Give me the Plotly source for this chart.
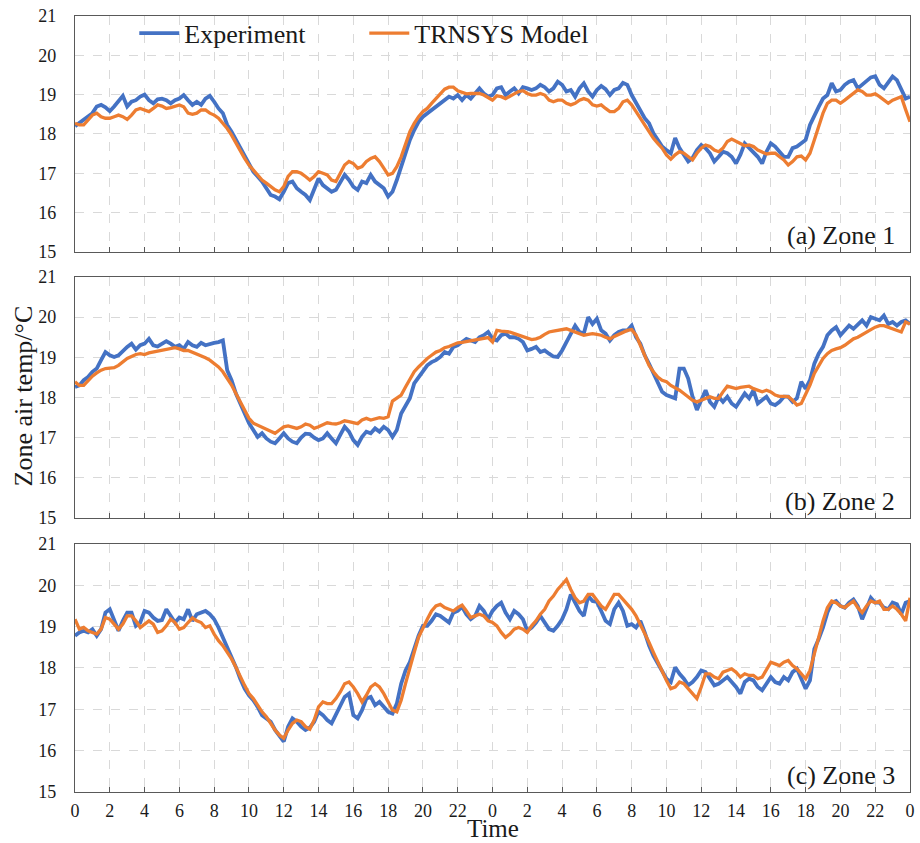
import plotly.graph_objects as go

# Sampling: every 15 minutes over two days (hours since start)
hours = [i * 0.25 for i in range(193)]

# Zone 1 air temperature (°C)
exp_zone1 = [
    18.20, 18.28, 18.36, 18.45, 18.53, 18.70, 18.74, 18.68,
    18.58, 18.70, 18.82, 18.97, 18.70, 18.82, 18.86, 18.95,
    19.00, 18.86, 18.78, 18.88, 18.90, 18.86, 18.78, 18.86,
    18.90, 18.99, 18.86, 18.74, 18.82, 18.74, 18.90, 18.97,
    18.82, 18.65, 18.53, 18.23, 18.06, 17.85, 17.64, 17.42,
    17.21, 17.04, 16.92, 16.79, 16.62, 16.45, 16.41, 16.34,
    16.53, 16.75, 16.79, 16.62, 16.53, 16.45, 16.32, 16.62,
    16.87, 16.70, 16.62, 16.53, 16.58, 16.79, 16.96, 16.83,
    16.66, 16.58, 16.79, 16.75, 16.96, 16.79, 16.70, 16.62,
    16.41, 16.53, 16.83, 17.17, 17.51, 17.85, 18.10, 18.31,
    18.44, 18.53, 18.61, 18.69, 18.78, 18.86, 18.95, 18.90,
    18.99, 18.86, 18.99, 18.90, 19.03, 19.16, 19.03, 18.95,
    18.99, 19.16, 19.19, 18.99, 19.08, 19.16, 19.03, 19.19,
    19.16, 19.12, 19.16, 19.25, 19.19, 19.08, 19.16, 19.33,
    19.25, 19.08, 19.12, 18.95, 19.16, 19.29, 19.08, 18.95,
    19.12, 19.22, 19.14, 18.99, 19.12, 19.16, 19.30, 19.25,
    18.99, 18.78, 18.61, 18.40, 18.27, 18.02, 17.85, 17.68,
    17.59, 17.51, 17.90, 17.64, 17.47, 17.30, 17.39, 17.59,
    17.72, 17.64, 17.51, 17.30, 17.42, 17.55, 17.51, 17.42,
    17.25, 17.47, 17.76, 17.64, 17.55, 17.42, 17.25, 17.55,
    17.76, 17.68, 17.55, 17.42, 17.42, 17.64, 17.68, 17.76,
    17.85, 18.23, 18.48, 18.69, 18.90, 18.99, 19.29, 19.08,
    19.12, 19.25, 19.33, 19.37, 19.16, 19.25, 19.37, 19.44,
    19.47, 19.25, 19.16, 19.33, 19.46, 19.37, 19.12, 18.90,
    18.95,
]
mod_zone1 = [
    18.27, 18.23, 18.23, 18.36, 18.48, 18.53, 18.44, 18.40,
    18.40, 18.44, 18.48, 18.44, 18.37, 18.48, 18.61, 18.65,
    18.61, 18.57, 18.65, 18.74, 18.71, 18.65, 18.67, 18.71,
    18.74, 18.69, 18.53, 18.50, 18.53, 18.61, 18.61, 18.53,
    18.48, 18.40, 18.27, 18.14, 17.97, 17.76, 17.55, 17.38,
    17.21, 17.08, 16.96, 16.83, 16.75, 16.66, 16.58, 16.53,
    16.66, 16.92, 17.04, 17.04, 17.00, 16.92, 16.83, 16.92,
    17.04, 17.00, 16.96, 16.83, 16.79, 17.00, 17.21, 17.30,
    17.25, 17.13, 17.17, 17.30, 17.38, 17.42, 17.30, 17.13,
    16.96, 17.00, 17.17, 17.42, 17.76, 18.06, 18.27, 18.44,
    18.57, 18.65, 18.78, 18.90, 19.03, 19.14, 19.19, 19.19,
    19.10, 19.05, 19.02, 19.03, 19.03, 19.03, 18.99, 18.93,
    18.86, 18.97, 18.95, 18.90, 18.95, 19.02, 19.08, 19.10,
    19.03, 18.99, 18.99, 19.03, 18.99, 18.86, 18.82, 18.86,
    18.86, 18.78, 18.74, 18.78, 18.86, 18.90, 18.86, 18.74,
    18.71, 18.74, 18.65, 18.57, 18.57, 18.65, 18.82, 18.86,
    18.74, 18.57, 18.40, 18.23, 18.06, 17.89, 17.76, 17.64,
    17.47, 17.36, 17.47, 17.55, 17.51, 17.42, 17.34, 17.51,
    17.64, 17.72, 17.68, 17.59, 17.55, 17.64, 17.81, 17.87,
    17.81, 17.75, 17.70, 17.72, 17.68, 17.59, 17.55, 17.49,
    17.51, 17.51, 17.42, 17.34, 17.21, 17.30, 17.42, 17.44,
    17.34, 17.51, 17.85, 18.19, 18.53, 18.78, 18.86, 18.86,
    18.78, 18.86, 18.95, 19.02, 19.12, 19.08, 18.99, 18.99,
    19.02, 18.95, 18.86, 18.78, 18.86, 18.90, 18.95, 18.62,
    18.31,
]

# Zone 2 air temperature (°C)
exp_zone2 = [
    18.26, 18.30, 18.43, 18.51, 18.64, 18.72, 18.93, 19.13,
    19.05, 19.01, 19.05, 19.17, 19.26, 19.34, 19.19, 19.30,
    19.34, 19.46, 19.30, 19.27, 19.34, 19.40, 19.34, 19.26,
    19.30, 19.21, 19.38, 19.30, 19.26, 19.36, 19.30, 19.34,
    19.36, 19.38, 19.42, 18.68, 18.43, 18.10, 17.85, 17.60,
    17.36, 17.19, 17.02, 17.11, 16.98, 16.90, 16.86, 16.98,
    17.11, 16.98, 16.90, 16.86, 17.00, 17.10, 17.09, 17.00,
    16.94, 16.98, 17.11, 16.98, 16.86, 17.07, 17.27, 17.15,
    16.94, 16.82, 17.02, 17.15, 17.11, 17.23, 17.15, 17.27,
    17.19, 17.02, 17.19, 17.60, 17.77, 17.98, 18.35, 18.51,
    18.68, 18.80, 18.88, 18.93, 19.01, 19.13, 19.09, 19.26,
    19.30, 19.38, 19.46, 19.42, 19.38, 19.50, 19.55, 19.63,
    19.46, 19.42, 19.55, 19.59, 19.50, 19.50, 19.46, 19.38,
    19.17, 19.21, 19.26, 19.13, 19.17, 19.09, 19.02, 19.01,
    19.17, 19.38, 19.59, 19.79, 19.63, 19.59, 20.00, 19.83,
    19.96, 19.67, 19.59, 19.42, 19.55, 19.63, 19.67, 19.67,
    19.79, 19.50, 19.34, 19.05, 18.84, 18.60, 18.35, 18.14,
    18.06, 18.02, 17.98, 18.72, 18.72, 18.47, 18.02, 17.69,
    17.93, 18.18, 17.89, 17.77, 18.02, 17.89, 18.02, 17.85,
    17.77, 17.93, 18.10, 17.98, 18.18, 17.85, 17.93, 18.02,
    17.85, 17.81, 17.89, 18.02, 18.02, 17.89, 17.98, 18.39,
    18.22, 18.43, 18.84, 19.09, 19.26, 19.55, 19.67, 19.75,
    19.55, 19.67, 19.79, 19.71, 19.83, 19.92, 19.79, 20.00,
    19.96, 19.92, 20.04, 19.83, 19.88, 19.79, 19.88, 19.92,
    19.83,
]
mod_zone2 = [
    18.39, 18.30, 18.30, 18.43, 18.53, 18.61, 18.68, 18.72,
    18.72, 18.74, 18.80, 18.88, 18.97, 19.02, 19.07, 19.09,
    19.07, 19.11, 19.13, 19.16, 19.19, 19.19, 19.21, 19.24,
    19.21, 19.17, 19.17, 19.13, 19.09, 19.05, 18.99, 18.93,
    18.84, 18.76, 18.64, 18.47, 18.31, 18.10, 17.89, 17.69,
    17.48, 17.36, 17.31, 17.27, 17.21, 17.15, 17.11, 17.19,
    17.27, 17.29, 17.27, 17.23, 17.27, 17.34, 17.31, 17.23,
    17.27, 17.31, 17.37, 17.35, 17.34, 17.37, 17.42, 17.40,
    17.37, 17.35, 17.44, 17.48, 17.44, 17.48, 17.50, 17.48,
    17.52, 17.91, 17.98, 18.06, 18.26, 18.47, 18.64, 18.76,
    18.88, 18.97, 19.05, 19.13, 19.17, 19.24, 19.27, 19.32,
    19.36, 19.37, 19.39, 19.40, 19.42, 19.44, 19.46, 19.49,
    19.38, 19.67, 19.65, 19.65, 19.63, 19.59, 19.55, 19.50,
    19.46, 19.44, 19.46, 19.50, 19.57, 19.63, 19.65, 19.67,
    19.69, 19.71, 19.67, 19.63, 19.59, 19.55, 19.57, 19.59,
    19.57, 19.55, 19.50, 19.46, 19.52, 19.57, 19.63, 19.67,
    19.69, 19.55, 19.30, 19.05, 18.80, 18.64, 18.51, 18.43,
    18.39, 18.30, 18.25, 18.18, 18.10, 18.02, 17.93, 17.89,
    17.93, 17.98, 18.02, 17.98, 17.98, 18.14, 18.28, 18.25,
    18.22, 18.25, 18.26, 18.28, 18.22, 18.18, 18.14, 18.18,
    18.14, 18.06, 18.03, 18.03, 18.02, 17.93, 17.81, 17.85,
    18.06, 18.31, 18.60, 18.80, 18.97, 19.09, 19.17, 19.21,
    19.24, 19.30, 19.38, 19.46, 19.50, 19.57, 19.63, 19.69,
    19.75, 19.79, 19.79, 19.75, 19.71, 19.67, 19.63, 19.88,
    19.83,
]

# Zone 3 air temperature (°C)
exp_zone3 = [
    18.78, 18.86, 18.90, 18.86, 18.94, 18.78, 18.94, 19.34,
    19.42, 19.14, 18.90, 19.14, 19.34, 19.34, 19.02, 19.10,
    19.38, 19.34, 19.22, 19.14, 19.16, 19.42, 19.26, 19.10,
    19.22, 19.18, 19.42, 19.14, 19.30, 19.34, 19.38, 19.30,
    19.18, 18.98, 18.74, 18.54, 18.30, 18.02, 17.74, 17.50,
    17.34, 17.22, 17.06, 16.86, 16.78, 16.70, 16.50, 16.34,
    16.22, 16.58, 16.78, 16.70, 16.58, 16.50, 16.56, 16.70,
    16.94, 16.86, 16.74, 16.66, 16.86, 17.10, 17.30, 17.38,
    16.86, 16.78, 16.98, 17.26, 17.30, 17.10, 17.18, 17.06,
    16.94, 16.90, 17.14, 17.62, 17.94, 18.14, 18.46, 18.78,
    19.02, 19.02, 19.14, 19.30, 19.26, 19.18, 19.10, 19.34,
    19.38, 19.48, 19.30, 19.18, 19.26, 19.50, 19.38, 19.18,
    19.38, 19.50, 19.58, 19.34, 19.18, 19.38, 19.30, 19.18,
    18.90, 18.98, 19.10, 19.26, 19.10, 18.94, 18.90, 19.02,
    19.18, 19.42, 19.78, 19.58, 19.38, 19.26, 19.74, 19.62,
    19.60, 19.38, 19.14, 19.06, 19.42, 19.58, 19.38, 19.02,
    19.06, 18.98, 19.14, 18.86, 18.54, 18.30, 18.10, 17.94,
    17.74, 17.66, 18.02, 17.86, 17.74, 17.58, 17.66, 17.78,
    17.94, 17.90, 17.74, 17.58, 17.62, 17.70, 17.78, 17.66,
    17.54, 17.38, 17.66, 17.74, 17.70, 17.54, 17.46, 17.62,
    17.78, 17.66, 17.62, 17.78, 17.70, 17.90, 17.98, 17.74,
    17.50, 17.70, 18.46, 18.70, 18.98, 19.34, 19.58, 19.62,
    19.50, 19.46, 19.58, 19.66, 19.50, 19.18, 19.42, 19.70,
    19.58, 19.58, 19.46, 19.42, 19.58, 19.54, 19.30, 19.58,
    19.62,
]
mod_zone3 = [
    19.18, 18.94, 18.98, 18.90, 18.86, 18.82, 18.94, 19.22,
    19.18, 19.06, 18.94, 19.06, 19.26, 19.26, 19.14, 18.98,
    19.06, 19.14, 19.06, 18.86, 18.90, 19.02, 19.18, 19.10,
    18.94, 18.98, 19.10, 19.21, 19.14, 19.10, 18.98, 19.02,
    18.82, 18.66, 18.54, 18.38, 18.22, 18.02, 17.78, 17.58,
    17.38, 17.26, 17.10, 16.94, 16.82, 16.66, 16.50, 16.38,
    16.30, 16.50, 16.66, 16.74, 16.70, 16.58, 16.52, 16.74,
    17.06, 17.18, 17.14, 17.14, 17.26, 17.42, 17.62, 17.66,
    17.54, 17.38, 17.18, 17.34, 17.54, 17.62, 17.54, 17.38,
    17.18, 16.98, 16.94, 17.22, 17.62, 18.02, 18.38, 18.74,
    18.98, 19.18, 19.38, 19.50, 19.54, 19.46, 19.42, 19.38,
    19.46, 19.52, 19.38, 19.22, 19.26, 19.30, 19.26, 19.14,
    19.10, 19.02, 18.86, 18.74, 18.82, 18.94, 18.98, 18.94,
    18.86, 19.02, 19.14, 19.30, 19.42, 19.62, 19.74, 19.90,
    20.02, 20.14, 19.90, 19.70, 19.58, 19.62, 19.78, 19.78,
    19.64, 19.50, 19.42, 19.62, 19.78, 19.78, 19.66, 19.54,
    19.42, 19.26, 19.06, 18.86, 18.62, 18.38, 18.14, 17.90,
    17.70, 17.50, 17.54, 17.66, 17.62, 17.50, 17.38, 17.26,
    17.54, 17.86, 17.86, 17.78, 17.74, 17.90, 17.94, 17.98,
    17.90, 17.78, 17.86, 17.82, 17.82, 17.74, 17.78, 17.98,
    18.14, 18.10, 18.06, 18.14, 18.18, 18.06, 17.98, 17.86,
    17.74, 17.94, 18.34, 18.74, 19.14, 19.46, 19.62, 19.58,
    19.50, 19.46, 19.54, 19.62, 19.46, 19.34, 19.50, 19.62,
    19.58, 19.62, 19.42, 19.42, 19.50, 19.42, 19.30, 19.14,
    19.70,
]

zone_labels = ["(a) Zone 1", "(b) Zone 2", "(c) Zone 3"]
series_names = ["Experiment", "TRNSYS Model"]
tick_hours = list(range(0, 49, 2))
tick_text = [str(h % 24) for h in tick_hours]
y_ticks = [15, 16, 17, 18, 19, 20, 21]

BLUE = "#4472C4"
ORANGE = "#ED7D31"
FONT = "'Liberation Serif', 'DejaVu Serif', serif"
INK = "#1a1a1a"
FRAME = "#595959"
GRID = "#d9d9d9"
BIG = 26

domains = [[0.6959, 1.0], [0.3531, 0.6637], [0.0, 0.3196]]
zones = [(exp_zone1, mod_zone1), (exp_zone2, mod_zone2), (exp_zone3, mod_zone3)]

fig = go.Figure()
layout = dict(
    width=920, height=843,
    margin=dict(l=75, r=5, t=16, b=51),
    paper_bgcolor="white", plot_bgcolor="white",
    font=dict(family=FONT, color=INK, size=17),
    showlegend=True,
    legend=dict(
        orientation="h", x=0.071, y=1.008, xanchor="left", yanchor="top",
        font=dict(family=FONT, size=BIG, color=INK),
        bgcolor="rgba(0,0,0,0)", itemwidth=40, entrywidth=175,
    ),
)

annotations = []
for i, (exp, mod) in enumerate(zones):
    n = i + 1
    xa = "x" if n == 1 else f"x{n}"
    ya = "y" if n == 1 else f"y{n}"
    fig.add_trace(go.Scatter(
        x=hours, y=exp, mode="lines", name=series_names[0],
        line=dict(color=BLUE, width=3.8), xaxis=xa, yaxis=ya,
        showlegend=(n == 1),
    ))
    fig.add_trace(go.Scatter(
        x=hours, y=mod, mode="lines", name=series_names[1],
        line=dict(color=ORANGE, width=3.3), xaxis=xa, yaxis=ya,
        showlegend=(n == 1),
    ))
    xkey = "xaxis" if n == 1 else f"xaxis{n}"
    ykey = "yaxis" if n == 1 else f"yaxis{n}"
    layout[xkey] = dict(
        domain=[0, 1], anchor=ya, range=[0, 48],
        tickvals=tick_hours, ticktext=tick_text,
        showticklabels=(n == 3),
        ticks="inside", ticklen=5, tickcolor=FRAME, tickwidth=1,
        showgrid=True, gridcolor=GRID, griddash="dash", gridwidth=1,
        showline=True, linecolor=FRAME, linewidth=1.2, mirror=True,
        zeroline=False, ticklabelstandoff=2,
        tickfont=dict(family=FONT, size=18, color=INK),
        matches="x" if n > 1 else None,
    )
    layout[ykey] = dict(
        domain=domains[i], anchor=xa, range=[15, 21],
        tickvals=y_ticks, ticks="",
        showgrid=True, gridcolor=GRID, griddash="dash", gridwidth=1,
        showline=True, linecolor=FRAME, linewidth=1.2, mirror=True,
        zeroline=False, ticklabelstandoff=14,
        tickfont=dict(family=FONT, size=18, color=INK),
    )
    annotations.append(dict(
        text=zone_labels[i], xref=f"{xa} domain", yref=f"{ya} domain",
        x=0.985, y=0.0, xanchor="right", yanchor="bottom", showarrow=False,
        font=dict(family=FONT, size=BIG, color=INK),
    ))

annotations.append(dict(
    text="Zone air temp/°C", xref="paper", yref="paper",
    x=-0.062, y=0.51, xanchor="center", yanchor="middle", textangle=-90,
    showarrow=False, font=dict(family=FONT, size=BIG, color=INK),
))
annotations.append(dict(
    text="Time", xref="paper", yref="paper",
    x=0.5, y=-0.0655, xanchor="center", yanchor="bottom",
    showarrow=False, borderpad=0, font=dict(family=FONT, size=25, color=INK),
))
layout["annotations"] = annotations

fig.update_layout(**layout)
fig.write_html("out.html")
